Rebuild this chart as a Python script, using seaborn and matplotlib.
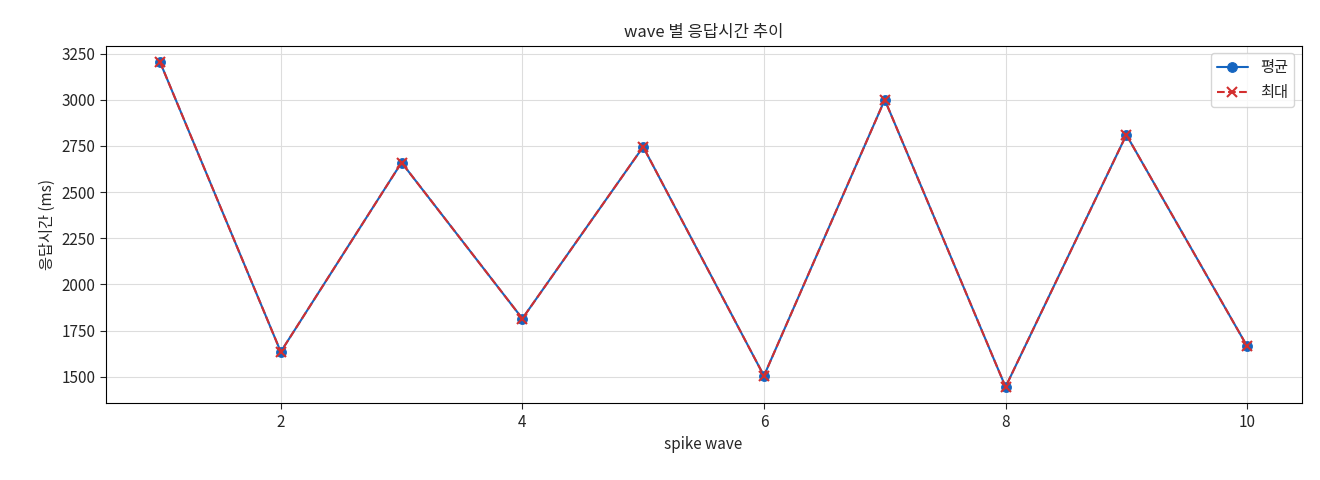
import matplotlib
matplotlib.use("Agg")
import matplotlib.pyplot as plt
import seaborn as sns
import pandas as pd

waves = [1, 2, 3, 4, 5, 6, 7, 8, 9, 10]
avg_ms = [3205, 1635, 2660, 1815, 2745, 1505, 3000, 1445, 2810, 1665]
max_ms = [3205, 1635, 2660, 1815, 2745, 1505, 3000, 1445, 2810, 1665]

sns.set_style("white")
plt.rcParams['font.family'] = ['Noto Sans CJK KR', 'DejaVu Sans']
plt.rcParams['font.size'] = 11

df = pd.DataFrame({"wave": waves, "avg": avg_ms, "max": max_ms})
fig, ax = plt.subplots(figsize=(13.2, 4.8), dpi=100)
fig.subplots_adjust(left=0.08, right=0.986, top=0.905, bottom=0.16)
sns.lineplot(data=df, x="wave", y="avg", ax=ax, color="#1565c0", marker="o",
             markersize=7, markeredgecolor="#1565c0", label="평균")
sns.lineplot(data=df, x="wave", y="max", ax=ax, color="#d32f2f", marker="x",
             markersize=7, markeredgecolor="#d32f2f", markeredgewidth=1.5, label="최대")
ax.lines[1].set_linestyle("--")
for s in ax.spines.values():
    s.set_color("black"); s.set_linewidth(0.8)
ax.grid(True, color="#dddddd", linewidth=0.8)
ax.tick_params(left=True, bottom=True, length=4, labelsize=11)
ax.set_title("wave 별 응답시간 추이", fontsize=12)
ax.set_xlabel("spike wave")
ax.set_ylabel("응답시간 (ms)")
ax.legend(handles=ax.lines[:2], labels=["평균", "최대"], loc="upper right")
fig.savefig("out.png")
